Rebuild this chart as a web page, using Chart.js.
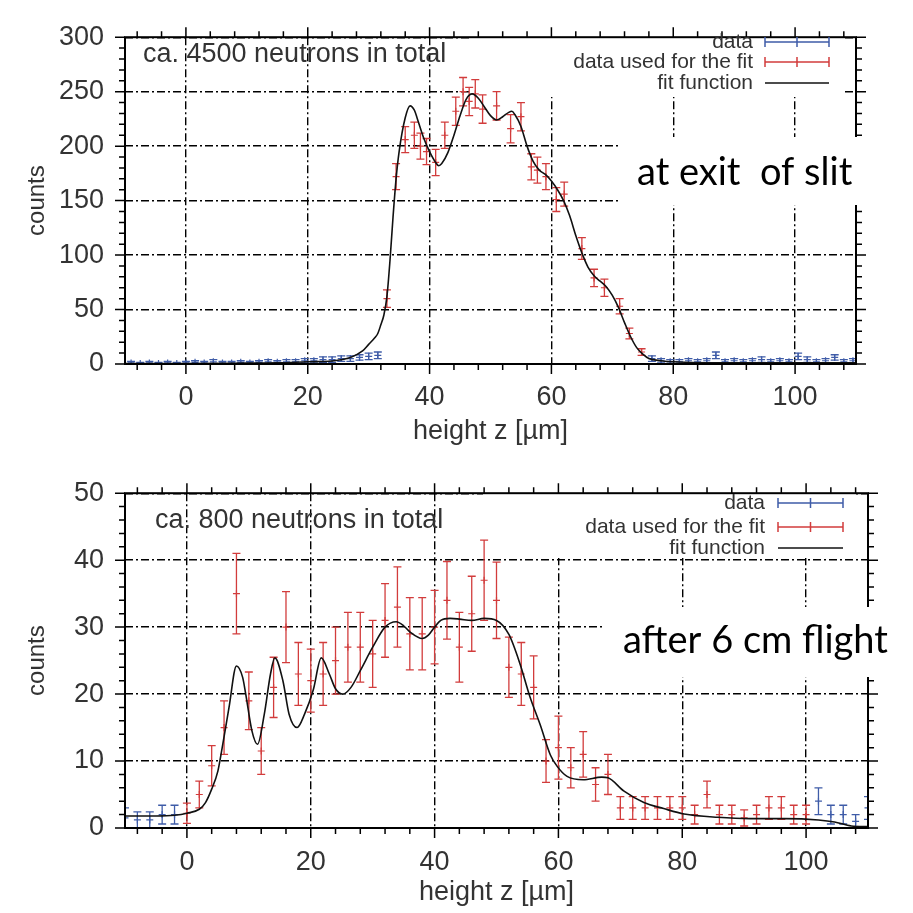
<!DOCTYPE html>
<html><head><meta charset="utf-8">
<script src="https://cdn.jsdelivr.net/npm/chart.js@4.4.1/dist/chart.umd.min.js"></script>
<style>
html,body{margin:0;padding:0;background:#fff;width:913px;height:913px;overflow:hidden}
canvas{position:absolute;left:0}
#c1{top:0}
#c2{top:456px}
</style></head><body>
<canvas id="c1" width="913" height="456"></canvas>
<canvas id="c2" width="913" height="457"></canvas>
<script>
// ---------- shared axis ticks ----------
const xMajor = [0, 20, 40, 60, 80, 100];
const xMinor = [-8,-4,4,8,12,16,24,28,32,36,44,48,52,56,64,68,72,76,84,88,92,96,104,108];
const topYMajor = [0, 50, 100, 150, 200, 250, 300];
const topYMinor = [10,20,30,40,60,70,80,90,110,120,130,140,160,170,180,190,210,220,230,240,260,270,280,290];
const botYMajor = [0, 10, 20, 30, 40, 50];
const botYMinor = [2,4,6,8,12,14,16,18,22,24,26,28,32,34,36,38,42,44,46,48];

const seriesNames = ['data', 'data used for the fit', 'fit function'];
const xTitle = 'height z [µm]';
const yTitle = 'counts';

// ---------- top panel: at exit of slit ----------
const topNote = 'ca. 4500 neutrons in total';
const topLabel = 'at exit  of slit';
const topBlueX = [-9,-7.5,-6,-4.5,-3,-1.5,0,1.5,3,4.5,6,7.5,9,10.5,12,13.5,15,16.5,18,19.5,21,22.5,24,25.5,27,28.5,30,31.5,
                  76.5,78,79.5,81,82.5,84,85.5,87,88.5,90,91.5,93,94.5,96,97.5,99,100.5,102,103.5,105,106.5,108,109.5];
const topBlueY = [1,0.5,1,0.5,1,0.5,1,1.5,1,2,1,1,1.5,1,1.5,2,1.5,2,2,3,3,4,4,5,5,6,7,8,
                  5,3,2,2,3,2,3,8,2,3,2,3,4,2,3,2,7,4,2,3,6,2,3];
const topBlueErr = [1.5,1,1.5,1,1.5,1,1.5,1.5,1.5,2,1.5,1.5,1.5,1.5,1.5,2,1.5,2,2,2,2,2.5,2.5,2.5,2.5,2.5,3,3,
                  2.5,2,2,2,2,2,2,3,2,2,2,2,2.5,2,2,2,3,2.5,2,2,2.5,2,2];
const topRedX = [33,34.5,36,37.5,38.5,39.5,41,42.5,44.3,45.5,46.5,47.5,48.7,51,53.3,55,56.7,57.7,59.1,60.8,62.1,65,67,68.7,71.2,72.8,74.8];
const topRedY = [60,172,206,210,200,195,185,210,232,250,241,248,234,237,216,227,181,178,172,151,156,106,79,70,53,28,11];
const topRedErr = [8,12,12,12,12,12,12,12,13,13,13,13,13,13,13,13,12,12,12,11,11,10,8,8,7,5,3];
const topFitX = [-10,0,10,15,20,24,27,29,30,31,31.5,32,32.5,33,33.5,34,34.5,35,36,36.8,37.5,38,39,40,41,41.5,42,43,44,45,46,47,48,49,50,51,52,53,53.5,54,55,56,57,58,59,60,61,62,63,64,65,66,67,68,69,70,71,72,73,74,75,76,78,80,90,100,110];
const topFitY = [0.5,0.5,0.8,1,2,2.8,6,12,18,24,28,36,45,62,95,135,170,195,226,237,233,225,208,195,185,182,184,194,210,228,243,248,244,236,228,224,227,231,232,229,218,200,186,178,174,168,160,150,136,118,102,89,81,76,71,63,52,38,25,15,9,5,3,2,1,1,1];

// ---------- bottom panel: after 6 cm flight ----------
const botNote = 'ca. 800 neutrons in total';
const botLabel = 'after 6 cm flight';
const botBlueX = [-10,-8,-6,-4,-2,102,104,106,108,110];
const botBlueY = [1.5,1.2,1.2,2,2,4,2,2,1,3];
const botBlueErr = [1.5,1.2,1.2,1.4,1.4,2,1.4,1.4,1,1.7];
const botRedX = [0,2,4,6,8,10,12,14,16,18,20,22,24,26,28,30,32,34,36,38,40,42,44,46,48,50,52,54,56,58,60,62,64,66,68,70,72,74,76,78,80,82,84,86,88,90,92,94,96,98,100];
const botRedY = [2.2,5,9.3,15,35,19,11.5,21,30,23,22,23,25,27,27,26,31,33,29,29,30,34,27,32,37,34,24,23,21,10,12,9,11,6.5,8,3,3,3,3,3,3,2,5,2,2,1.5,2,3,3,2,2];
const botRedErr = [1.5,2,3,4,6,4.3,3.5,4.5,5.3,4.7,4.7,4.7,5,5.2,5.2,5,5.5,6,5.4,5.4,5.5,5.8,5.2,5.6,6,5.7,4.5,4.7,4.7,3.2,4.7,3,3.4,2.5,3,1.7,1.7,1.7,1.7,1.7,1.7,1.4,2,1.4,1.4,1.2,1.4,1.7,1.7,1.4,1.4];
const botFitX = [-10,-5,-2,0,2,3,4,5,5.7,6.8,8,9,9.5,10.5,11.4,12.5,13.5,14.2,15.5,16.5,17.8,19,20.4,21.7,23,24,25.2,26.5,28,30,32,33.8,35,36,38,39,40,41,42.5,44,46,48,50,52,53.8,55.4,57.1,58.7,59.8,61.4,64,67,68,70.6,73.8,77,80.3,85.7,91,96.5,102,104.6,107.3,110];
const botFitY = [1.8,1.8,1.9,2.2,2.8,3.8,5.8,8.5,12,18,24.2,22.5,20,14.5,12.5,17,23,25.4,22,17,15,17,20.6,25.4,23,20.8,20,21,23.5,27,30,30.8,30.2,29.3,28.3,28.8,30,31,31.3,31.2,31,31.3,31,28.9,24.5,19.6,15.3,10.9,9.2,7.7,7.2,7.6,7.5,5.5,3.8,2.9,2.1,1.6,1.4,1.4,1.2,0.9,0.3,0.2];

// ---------- styling ----------
const BLUE = '#3f5ca8', RED = '#d23c3c', FIT = '#111111';
const SANS = "'Liberation Sans', Arial, sans-serif";
const TXT = '#333333';

const pts = (xs, ys) => xs.map((v, i) => ({x: v, y: ys[i]}));

// per-panel decoration (positions in canvas pixels)
const panels = {
  c1: { xMajor, xMinor, yMajor: topYMajor, yMinor: topYMinor,
        keyBox: [470, 27, 372, 70], keyTextRight: 753, keyRows: [42, 62, 83], keyS0: 765, keyS1: 829,
        noteBox: [618, 137, 295, 68], labelText: topLabel, labelX: 637, labelY: 185,
        annText: topNote, annX: 143, annY: 62 },
  c2: { xMajor, xMinor, yMajor: botYMajor, yMinor: botYMinor,
        keyBox: [483, 33, 372, 69], keyTextRight: 765, keyRows: [47, 71, 92], keyS0: 778, keyS1: 843,
        noteBox: [605, 151, 308, 70], labelText: botLabel, labelX: 623, labelY: 197,
        annText: botNote, annX: 155, annY: 72 }
};

function drawErrorBars(chart) {
  const {ctx, chartArea: a, scales: {x, y}} = chart;
  ctx.save();
  ctx.beginPath(); ctx.rect(a.left, a.top, a.right - a.left, a.bottom - a.top); ctx.clip();
  chart.data.datasets.forEach(ds => {
    if (!ds.errors) return;
    ctx.strokeStyle = ds.borderColor; ctx.lineWidth = 1.3;
    ds.data.forEach((p, i) => {
      const e = ds.errors[i];
      const px = x.getPixelForValue(p.x);
      const y1 = y.getPixelForValue(p.y - e), y2 = y.getPixelForValue(p.y + e);
      const c = 4;
      ctx.beginPath();
      ctx.moveTo(px, y1); ctx.lineTo(px, y2);
      ctx.moveTo(px - c, y1); ctx.lineTo(px + c, y1);
      ctx.moveTo(px - c, y2); ctx.lineTo(px + c, y2);
      ctx.stroke();
    });
  });
  ctx.restore();
}

const gnuPlugin = {
  id: 'gnu',
  beforeDatasetsDraw(chart) {
    const P = panels[chart.canvas.id];
    const ctx = chart.ctx;
    ctx.save(); ctx.fillStyle = '#fff';
    ctx.fillRect(P.keyBox[0], P.keyBox[1], P.keyBox[2], P.keyBox[3]);
    ctx.restore();
    drawErrorBars(chart);
  },
  afterDatasetsDraw(chart) {
    const P = panels[chart.canvas.id];
    const {ctx, chartArea: a, scales: {x, y}} = chart;
    ctx.save();
    // border
    ctx.strokeStyle = '#000'; ctx.lineWidth = 2;
    ctx.strokeRect(a.left, a.top, a.right - a.left, a.bottom - a.top);
    // outward ticks, mirrored
    ctx.lineWidth = 1.5; ctx.beginPath();
    const tx = (v, len) => { const p = x.getPixelForValue(v);
      ctx.moveTo(p, a.top); ctx.lineTo(p, a.top - len); ctx.moveTo(p, a.bottom); ctx.lineTo(p, a.bottom + len); };
    const ty = (v, len) => { const p = y.getPixelForValue(v);
      ctx.moveTo(a.left, p); ctx.lineTo(a.left - len, p); ctx.moveTo(a.right, p); ctx.lineTo(a.right + len, p); };
    P.xMajor.forEach(v => tx(v, 10)); P.xMinor.forEach(v => tx(v, 6));
    P.yMajor.forEach(v => ty(v, 10)); P.yMinor.forEach(v => ty(v, 6));
    ctx.stroke();
    // legend (key)
    ctx.font = '21px ' + SANS; ctx.fillStyle = TXT; ctx.textAlign = 'right'; ctx.textBaseline = 'middle';
    chart.data.datasets.forEach((ds, i) => {
      const yy = P.keyRows[i];
      ctx.fillText(ds.label, P.keyTextRight, yy);
      ctx.strokeStyle = ds.borderColor; ctx.lineWidth = 1.5;
      ctx.beginPath();
      ctx.moveTo(P.keyS0, yy); ctx.lineTo(P.keyS1, yy);
      if (ds.errors) {
        const m = (P.keyS0 + P.keyS1) / 2;
        ctx.moveTo(P.keyS0, yy - 5); ctx.lineTo(P.keyS0, yy + 5);
        ctx.moveTo(P.keyS1, yy - 5); ctx.lineTo(P.keyS1, yy + 5);
        ctx.moveTo(m, yy - 5); ctx.lineTo(m, yy + 5);
      }
      ctx.stroke();
    });
    // annotation
    ctx.textAlign = 'left'; ctx.textBaseline = 'alphabetic';
    ctx.font = '27px ' + SANS; ctx.fillStyle = TXT;
    ctx.fillText(P.annText, P.annX, P.annY);
    ctx.restore();
  },
  afterDraw(chart) {
    const P = panels[chart.canvas.id];
    const ctx = chart.ctx;
    ctx.save();
    ctx.fillStyle = '#fff';
    ctx.fillRect(P.noteBox[0], P.noteBox[1], P.noteBox[2], P.noteBox[3]);
    ctx.fillStyle = '#000'; ctx.font = "38px Lato, 'Open Sans', sans-serif";
    ctx.textAlign = 'left'; ctx.textBaseline = 'alphabetic';
    ctx.fillText(P.labelText, P.labelX, P.labelY);
    ctx.restore();
  }
};

function makePanel(id, d, opt) {
  const tickFont = {family: SANS, size: 27};
  return new Chart(document.getElementById(id), {
    type: 'scatter',
    data: { datasets: [
      { label: seriesNames[0], data: pts(d.bx, d.by), errors: d.be, borderColor: BLUE, backgroundColor: BLUE,
        pointStyle: 'cross', pointRadius: 3.5, borderWidth: 1.2, showLine: false },
      { label: seriesNames[1], data: pts(d.rx, d.ry), errors: d.re, borderColor: RED, backgroundColor: RED,
        pointStyle: 'cross', pointRadius: 3.5, borderWidth: 1.2, showLine: false },
      { label: seriesNames[2], data: pts(d.fx, d.fy), borderColor: FIT, backgroundColor: FIT,
        showLine: true, pointRadius: 0, borderWidth: 1.6, cubicInterpolationMode: 'monotone', order: -1 }
    ]},
    options: {
      responsive: false, animation: false, devicePixelRatio: 1,
      layout: { padding: { top: opt.padTop, right: opt.padRight, left: 0, bottom: 0 } },
      plugins: { legend: { display: false }, tooltip: { enabled: false } },
      scales: {
        x: { type: 'linear', min: -10, max: 110,
             afterBuildTicks: s => { s.ticks = xMajor.map(v => ({value: v})); },
             afterFit: s => { s.height = opt.xHeight; },
             ticks: { font: tickFont, color: TXT, padding: opt.xTickPad },
             grid: { color: '#000', lineWidth: 1.4, drawTicks: false },
             border: { display: false, dash: [8, 3, 2, 3] },
             title: { display: true, text: xTitle, font: tickFont, color: TXT, padding: {top: 0, bottom: opt.xTitlePad} } },
        y: { type: 'linear', min: d.ymin, max: d.ymax,
             afterBuildTicks: s => { s.ticks = d.yMajor.map(v => ({value: v})); },
             afterFit: s => { s.width = 125; },
             ticks: { font: tickFont, color: TXT, padding: 21 },
             grid: { color: '#000', lineWidth: 1.4, drawTicks: false },
             border: { display: false, dash: [8, 3, 2, 3] },
             title: { display: true, text: yTitle, font: {family: SANS, size: 24}, color: TXT, padding: {top: 23, bottom: 0} } }
      }
    },
    plugins: [gnuPlugin]
  });
}

makePanel('c1',
  { bx: topBlueX, by: topBlueY, be: topBlueErr, rx: topRedX, ry: topRedY, re: topRedErr,
    fx: topFitX, fy: topFitY, ymin: 0, ymax: 300, yMajor: topYMajor },
  { padTop: 23, padRight: 57, xHeight: 92, xTickPad: 17, xTitlePad: 8 });

makePanel('c2',
  { bx: botBlueX, by: botBlueY, be: botBlueErr, rx: botRedX, ry: botRedY, re: botRedErr,
    fx: botFitX, fy: botFitY, ymin: 0, ymax: 50, yMajor: botYMajor },
  { padTop: 29, padRight: 45, xHeight: 85, xTickPad: 18, xTitlePad: 4 });
</script>
</body></html>
